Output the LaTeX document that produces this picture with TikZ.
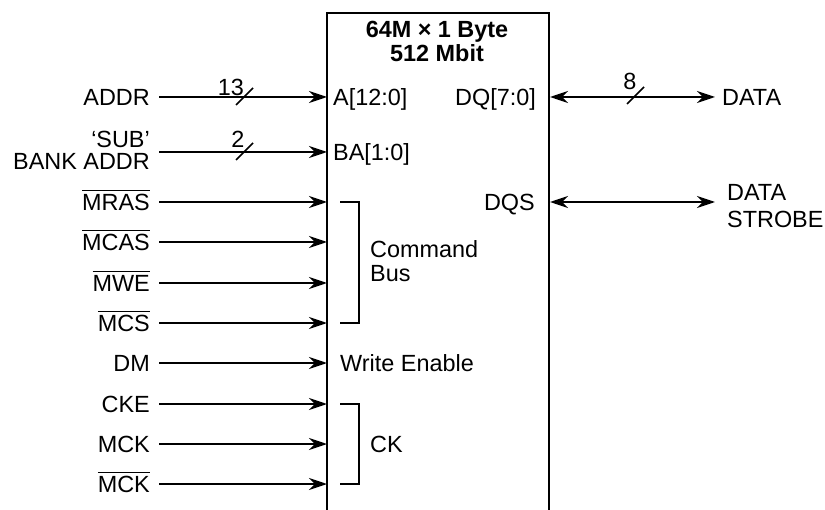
\documentclass[tikz,border=0pt]{standalone}
\usepackage{fontspec}
\setmainfont{Liberation Sans}
\usetikzlibrary{arrows.meta,calc}
\newcommand\barred[1]{\setbox0\hbox{#1}\rlap{\rule[\dimexpr\ht0+3bp\relax]{\wd0}{1.5bp}}\box0}
\tikzset{
  txt/.style={inner sep=0pt, font=\fontsize{23.5}{25}\selectfont, align=left},
  ltxt/.style={txt, anchor=base east, align=right},
  sig/.style={line width=2bp, -{Stealth[length=18bp,width=12bp,inset=6bp]}},
  bisig/.style={line width=2bp, {Stealth[length=18bp,width=12bp,inset=6bp]}-{Stealth[length=18bp,width=12bp,inset=6bp]}},
  boxline/.style={line width=2.3bp},
  brk/.style={line width=2bp},
  slash/.style={line width=1.5bp},
}
\begin{document}
\begin{tikzpicture}[x=1bp,y=-1bp]
\useasboundingbox (0,0) rectangle (825,510);
% chip outline (open at bottom)
\coordinate (BL) at (327,510);
\coordinate (TL) at (327,13);
\coordinate (TR) at (549,13);
\coordinate (BR) at (549,510);
\draw[boxline] (BL) -- (TL) -- (TR) -- (BR);
% title
\node[txt, align=center, font=\fontsize{23.5}{24}\selectfont\bfseries] (title) at (437,41) {64M × 1 Byte\\512 Mbit};
% input rows
\foreach \n/\y/\t in {addr/97/ADDR, mras/202/\barred{MRAS}, mcas/242/\barred{MCAS}, mwe/283/\barred{MWE}, mcs/323/\barred{MCS}, dm/363/DM, cke/404/CKE, mck/444/MCK, mckn/484/\barred{MCK}}{
  \node[ltxt] (\n) at (150,\y+8.4) {\t};
  \coordinate (\n S) at (159,\y);
  \coordinate (\n E) at (327,\y);
  \draw[sig] (\n S) -- (\n E);
}
% bank address
\node[ltxt, font=\fontsize{23.5}{23}\selectfont] (ba) at (150,170) {‘SUB’\\BANK ADDR};
\coordinate (baS) at (159,152);
\coordinate (baE) at (327,152);
\draw[sig] (baS) -- (baE);
% bus slashes
\coordinate (s1a) at (236,105); \coordinate (s1b) at (253,88);
\draw[slash] (s1a) -- (s1b);
\node[txt] (n13) at (231,87) {13};
\coordinate (s2a) at (236,160); \coordinate (s2b) at (253,143);
\draw[slash] (s2a) -- (s2b);
\node[txt] (n2) at (238,139) {2};
% pin names inside
\node[txt, anchor=base west] (pa) at (333,105.4) {A[12:0]};
\node[txt, anchor=base west] (pba) at (333,160.4) {BA[1:0]};
\node[txt, anchor=base east] (pdq) at (536,105.4) {DQ[7:0]};
\node[txt, anchor=base east] (pdqs) at (535,210.4) {DQS};
\node[txt, anchor=base west] (pwe) at (340,371.4) {Write Enable};
\node[txt, anchor=west, font=\fontsize{23.5}{24.5}\selectfont] (pcb) at (370,261) {Command\\Bus};
\node[txt, anchor=base west] (pck) at (370,452.4) {CK};
% brackets
\coordinate (b1a) at (340,202); \coordinate (b1b) at (359,202);
\coordinate (b1c) at (359,323); \coordinate (b1d) at (340,323);
\draw[brk] (b1a) -- (b1b) -- (b1c) -- (b1d);
\coordinate (b2a) at (340,404); \coordinate (b2b) at (359,404);
\coordinate (b2c) at (359,484); \coordinate (b2d) at (340,484);
\draw[brk] (b2a) -- (b2b) -- (b2c) -- (b2d);
% outputs
\coordinate (dqS) at (550,97);
\coordinate (dqE) at (715,97);
\draw[bisig] (dqS) -- (dqE);
\coordinate (s3a) at (627,104); \coordinate (s3b) at (644,87);
\draw[slash] (s3a) -- (s3b);
\node[txt] (n8) at (630,81) {8};
\node[txt, anchor=base west] (data) at (722,105.4) {DATA};
\coordinate (dqsS) at (550,202);
\coordinate (dqsE) at (715,202);
\draw[bisig] (dqsS) -- (dqsE);
\node[txt, anchor=west, font=\fontsize{23.5}{27.5}\selectfont] (strobe) at (727,206) {DATA\\STROBE};
\end{tikzpicture}
\end{document}
